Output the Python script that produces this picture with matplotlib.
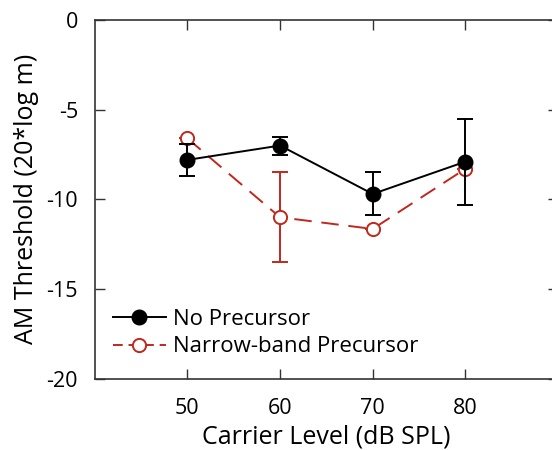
import numpy as np
import matplotlib.pyplot as plt
from matplotlib.lines import Line2D

plt.rcParams['font.family'] = ['Open Sans', 'DejaVu Sans']

levels = [50, 60, 70, 80]

# no precursor: mean threshold and error
no_pre = [-7.8, -7.0, -9.7, -7.9]
no_pre_err = [0.9, 0.5, 1.2, 2.4]

# narrow-band precursor
nb_pre = [-6.6, -11.0, -11.65, -8.3]
nb_pre_err = [0.0, 2.5, 0.0, 0.0]

red = '#c0281c'

fig = plt.figure(figsize=(5.52, 4.5), dpi=100)
ax = fig.add_axes([94.7 / 552, 71.3 / 450, (558 - 94.7) / 552, (378.7 - 20) / 450])

ax.errorbar(levels, no_pre, yerr=no_pre_err, color='black', lw=1.4,
            marker='o', ms=10.5, mfc='black', mec='black',
            capsize=6, capthick=1.4, elinewidth=1.4, zorder=3)
ax.errorbar(levels, nb_pre, yerr=nb_pre_err, color=red, lw=1.4, dashes=(9, 5),
            marker='o', ms=9.5, mfc='white', mec=red, mew=1.4,
            capsize=6, capthick=1.4, elinewidth=1.4, zorder=2)

ax.set_xlim(40, 90)
ax.set_ylim(-20, 0)
ax.set_xticks(levels)
ax.set_yticks([-20, -15, -10, -5, 0])
ax.set_yticklabels(['-20', '-15', '-10', '-5', '0'])
ax.tick_params(direction='in', length=7.2, width=1, labelsize=15.5, pad=12,
               top=True, right=True, color='#333333')
ax.tick_params(axis='x', pad=14)
for s in ax.spines.values():
    s.set_linewidth(1.2)
    s.set_color('#333333')

ax.set_xlabel('Carrier Level (dB SPL)', fontsize=18, labelpad=4)
ax.set_ylabel('AM Threshold (20*log m)', fontsize=18, labelpad=5)

handles = [
    Line2D([], [], color='black', lw=1.4, marker='o', ms=10.5, mfc='black'),
    Line2D([], [], color=red, lw=1.4, dashes=(5, 3), marker='o', ms=9.5,
           mfc='white', mec=red, mew=1.4),
]
ax.legend(handles, ['No Precursor', 'Narrow-band Precursor'],
          loc='upper left', bbox_to_anchor=(0.01, 0.232), frameon=False,
          fontsize=16, handlelength=2.4, handletextpad=0.3, labelspacing=0.3,
          borderaxespad=0.2)

fig.savefig('out.png', dpi=100)
